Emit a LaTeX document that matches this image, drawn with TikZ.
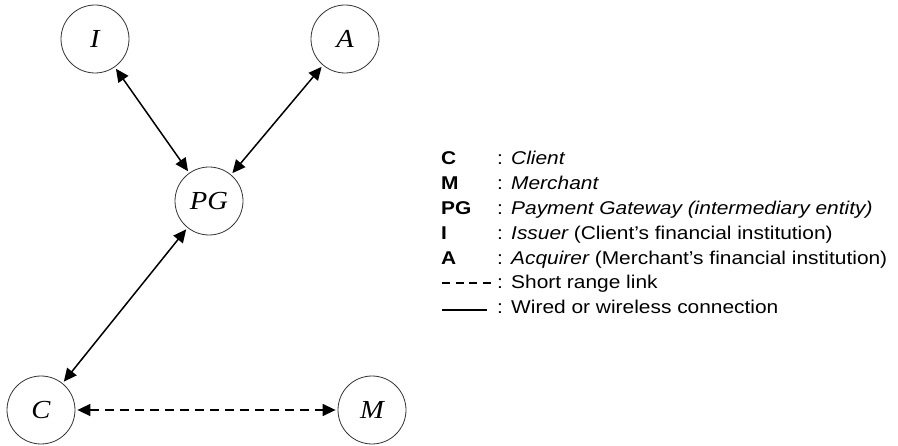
\documentclass[tikz,border=0pt]{standalone}
\usepackage{fontspec}
\setmainfont{Liberation Serif}
\newfontfamily\labelfont{Liberation Serif}[FakeStretch=1.1]
\newfontfamily\legendfont{Liberation Sans}[FakeStretch=1.13]
\usetikzlibrary{arrows.meta}

\tikzset{
  entity/.style={circle, draw=black!80, line width=0.8pt, minimum size=68pt,
    inner sep=0pt, font=\labelfont\fontsize{26}{26}\selectfont\itshape},
  link/.style={line width=1.5pt, {Triangle[length=13pt,width=12pt]}-{Triangle[length=13pt,width=12pt]},
    shorten <=2pt, shorten >=2pt},
  shortlink/.style={link, dash pattern=on 9pt off 6pt},
  keytxt/.style={anchor=base west, inner sep=0pt, font=\legendfont\fontsize{18.5}{18.5}\selectfont\bfseries},
  desctxt/.style={anchor=base west, inner sep=0pt, font=\legendfont\fontsize{18.5}{18.5}\selectfont},
}

\begin{document}
\begin{tikzpicture}[x=1pt, y=-1pt]
\useasboundingbox (0,0) rectangle (898,446);

% entities
\node[entity] (I)  at (95,39)   {I};
\node[entity] (A)  at (345,39)  {A};
\node[entity] (PG) at (209,201) {PG};
\node[entity] (C)  at (41,410)  {C};
\node[entity] (M)  at (372,410) {M};

% connections
\draw[link] (I) -- (PG);
\draw[link] (A) -- (PG);
\draw[link] (PG) -- (C);
\draw[shortlink] (C) -- (M);

% legend
\foreach \k/\d [count=\i from 0] in {
  C/{\itshape Client},
  M/{\itshape Merchant},
  PG/{\itshape Payment Gateway (intermediary entity)},
  I/{{\itshape Issuer} (Client’s financial institution)},
  A/{{\itshape Acquirer} (Merchant’s financial institution)}}
{
  \node[keytxt] (key\i) at (441,165+24.8*\i) {\k};
  \node[desctxt] (colon\i) at (497,165+24.8*\i) {:};
  \node[desctxt] (desc\i) at (511,165+24.8*\i) {\d};
}
\coordinate (dashA) at (442,283);
\coordinate (dashB) at (493,283);
\draw[line width=1.2pt, dash pattern=on 8pt off 5.5pt] (dashA) -- (dashB);
\node[desctxt] (colon5) at (497,289) {:};
\node[desctxt] (desc5) at (511,289) {Short range link};

\coordinate (solidA) at (442,310);
\coordinate (solidB) at (487,310);
\draw[line width=1.2pt] (solidA) -- (solidB);
\node[desctxt] (colon6) at (497,313.8) {:};
\node[desctxt] (desc6) at (511,313.8) {Wired or wireless connection};
\end{tikzpicture}
\end{document}
